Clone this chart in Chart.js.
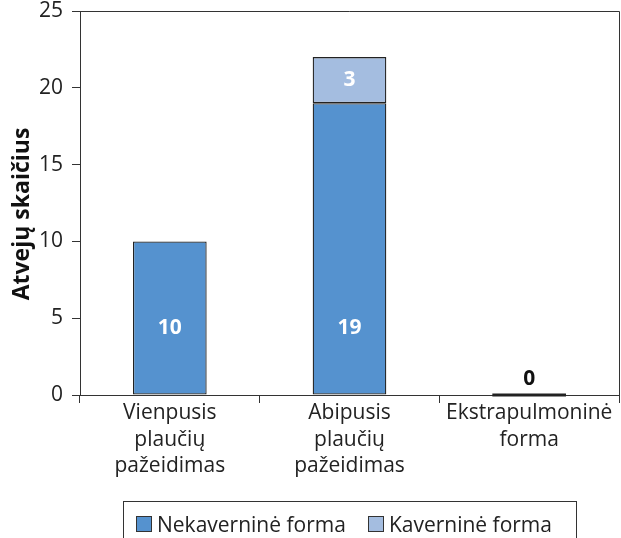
<!DOCTYPE html>
<html>
<head>
<meta charset="utf-8">
<script src="https://cdn.jsdelivr.net/npm/chart.js@4/dist/chart.umd.min.js"></script>
<style>
  html, body { margin: 0; padding: 0; background: #fff; overflow: hidden; }
  #wrap { position: relative; width: 621px; height: 538px; }
  #legend {
    position: absolute; left: 123px; top: 501px; width: 454px; height: 50px;
    border: 1px solid #333; box-sizing: border-box;
    font-family: "Open Sans", sans-serif; font-size: 21px; color: #222;
    display: flex; align-items: flex-start; padding: 8px 0 0 12px;
  }
  .item { display: flex; align-items: center; margin-right: 22px; white-space: nowrap; }
  .sw { width: 14px; height: 14px; border: 1px solid #333; margin-right: 5px; }
</style>
</head>
<body>
<div id="wrap">
  <canvas id="c" width="621" height="538"></canvas>
  <div id="legend"></div>
</div>
<script>
// Categories (multi-line axis labels)
const categories = [
  ["Vienpusis", "plaučių", "pažeidimas"],
  ["Abipusis", "plaučių", "pažeidimas"],
  ["Ekstrapulmoninė", "forma"]
];
// Series values
const nekaverninė = [10, 19, 0];
const kaverninė = [0, 3, 0];
const seriesNames = ["Nekaverninė forma", "Kaverninė forma"];
const seriesColors = ["#5592cf", "#a4bde0"];
// Y axis ticks
const yTicks = [0, 5, 10, 15, 20, 25];
const yTitle = "Atvejų skaičius";

const FONT = '"Open Sans", sans-serif';

// Frame lines on top and right of the plot, axis title and value labels
const framePlugin = {
  id: 'frame',
  afterDatasetsDraw(chart) {
    const { ctx, chartArea } = chart;
    ctx.save();
    ctx.strokeStyle = '#333';
    ctx.lineWidth = 1;
    ctx.beginPath();
    ctx.moveTo(chartArea.left, chartArea.top + 0.5);
    ctx.lineTo(chartArea.right + 0.5, chartArea.top + 0.5);
    ctx.lineTo(chartArea.right + 0.5, chartArea.bottom);
    ctx.stroke();

    // rotated y axis title
    ctx.save();
    ctx.translate(22, (chartArea.top + chartArea.bottom) / 2 + 11);
    ctx.rotate(-Math.PI / 2);
    ctx.fillStyle = '#111';
    ctx.font = 'bold 23px ' + FONT;
    ctx.textAlign = 'center';
    ctx.textBaseline = 'middle';
    ctx.fillText(yTitle, 0, 0);
    ctx.restore();

    const yScale = chart.scales.y;
    const base = yScale.getPixelForValue(0);
    ctx.textAlign = 'center';
    ctx.textBaseline = 'middle';
    chart.data.datasets.forEach((ds, di) => {
      const meta = chart.getDatasetMeta(di);
      meta.data.forEach((bar, i) => {
        const v = ds.data[i];
        if (di === 0 && v === 0) {
          // zero-height bar shown as a flat line with its value above
          ctx.strokeStyle = '#222';
          ctx.lineWidth = 3;
          ctx.beginPath();
          ctx.moveTo(bar.x - bar.width / 2, base);
          ctx.lineTo(bar.x + bar.width / 2, base);
          ctx.stroke();
          ctx.fillStyle = '#111';
          ctx.font = 'bold 21px ' + FONT;
          ctx.fillText(String(v), bar.x, base - 16);
        } else if (v > 0) {
          ctx.fillStyle = '#fff';
          ctx.font = 'bold 21px ' + FONT;
          const y = di === 0 ? base - 67 : (bar.y + bar.base) / 2;
          ctx.fillText(String(v), bar.x, y);
        }
      });
    });
    ctx.restore();
  }
};

const chart = new Chart(document.getElementById('c'), {
  type: 'bar',
  data: {
    labels: categories,
    datasets: [
      { label: seriesNames[0], data: nekaverninė, backgroundColor: seriesColors[0] },
      { label: seriesNames[1], data: kaverninė, backgroundColor: seriesColors[1] }
    ].map(d => Object.assign(d, {
      borderColor: '#222', borderWidth: 1.3, borderSkipped: false,
      categoryPercentage: 1, barPercentage: 0.41
    }))
  },
  options: {
    responsive: false,
    animation: false,
    layout: { padding: { top: 11, right: 2, left: 0, bottom: 0 } },
    plugins: { legend: { display: false }, tooltip: { enabled: false } },
    scales: {
      x: {
        stacked: true,
        grid: { display: true, drawOnChartArea: false, offset: true, tickLength: 8, color: '#333' },
        border: { color: '#333', width: 1 },
        ticks: { color: '#222', font: { family: FONT, size: 21, lineHeight: 1.26 }, padding: -3, maxRotation: 0, autoSkip: false },
        afterFit(s) { s.height = 143; }
      },
      y: {
        stacked: true,
        min: 0, max: 25,
        afterBuildTicks(s) { s.ticks = yTicks.map(v => ({ value: v })); },
        grid: { display: true, drawOnChartArea: false, tickLength: 8, color: '#333' },
        border: { color: '#333', width: 1 },
        ticks: { color: '#222', font: { family: FONT, size: 21 }, padding: 9 },
        afterFit(s) { s.width = 80; s.paddingTop = 0; s.paddingBottom = 0; }
      }
    }
  },
  plugins: [framePlugin]
});

// Legend built from the chart's datasets
const legend = document.getElementById('legend');
chart.data.datasets.forEach(ds => {
  const item = document.createElement('div');
  item.className = 'item';
  const sw = document.createElement('div');
  sw.className = 'sw';
  sw.style.background = ds.backgroundColor;
  const t = document.createElement('span');
  t.textContent = ds.label;
  item.appendChild(sw);
  item.appendChild(t);
  legend.appendChild(item);
});
</script>
</body>
</html>
